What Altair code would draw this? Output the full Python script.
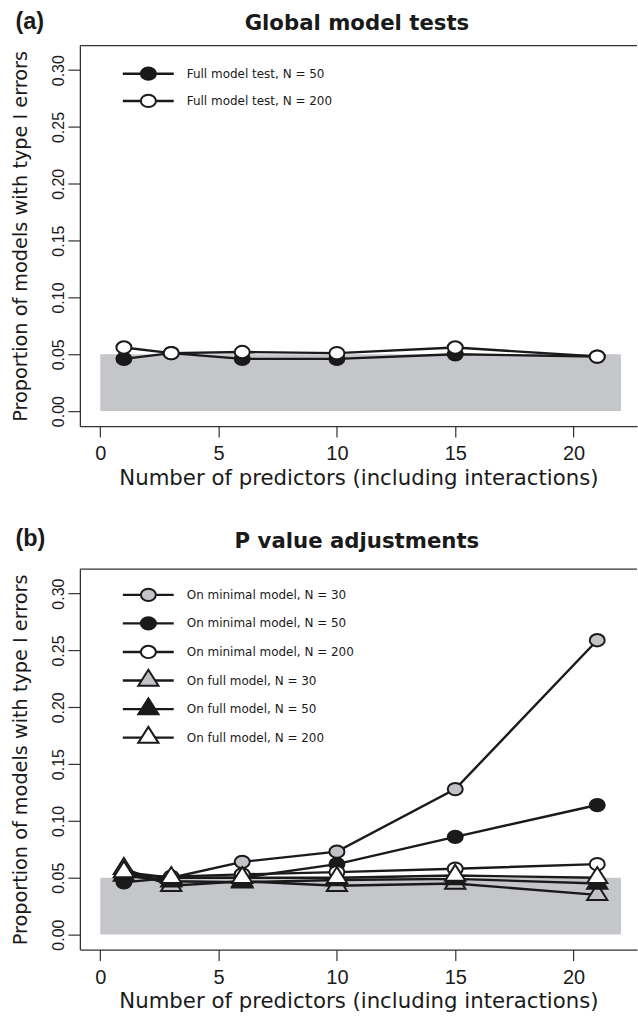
import altair as alt
import pandas as pd

# ---------------- data ----------------
X = [1, 3, 6, 10, 15, 21]

A_SERIES = ["Full model test, N = 50", "Full model test, N = 200"]
A_N50 = [0.046, 0.051, 0.046, 0.046, 0.050, 0.048]
A_N200 = [0.056, 0.051, 0.052, 0.051, 0.056, 0.048]

B_SERIES = [
    "On minimal model, N = 30",
    "On minimal model, N = 50",
    "On minimal model, N = 200",
    "On full model, N = 30",
    "On full model, N = 50",
    "On full model, N = 200",
]
B_MIN30 = [0.053, 0.050, 0.064, 0.073, 0.128, 0.259]
B_MIN50 = [0.046, 0.050, 0.050, 0.062, 0.086, 0.114]
B_MIN200 = [0.052, 0.051, 0.053, 0.055, 0.058, 0.062]
B_FULL30 = [0.058, 0.043, 0.047, 0.043, 0.045, 0.035]
B_FULL50 = [0.052, 0.047, 0.046, 0.048, 0.049, 0.045]
B_FULL200 = [0.055, 0.050, 0.050, 0.050, 0.052, 0.050]

BAND_X = [0, 22]
BAND_Y = [0, 0.05]
X_TICKS = [0, 5, 10, 15, 20]
Y_TICKS = [0.0, 0.05, 0.10, 0.15, 0.20, 0.25, 0.30]

# ---------------- style ----------------
W, H = 558, 381
XDOM = [-0.86, 22.68]
YDOM = [-0.0132, 0.3215]
FONT = "Liberation Sans"
WIDE = "DejaVu Sans"
INK = "#1a1a1a"
FRAME = "#333333"
GRAY_BAND = "#c5c6ca"
GRAY_PT = "#c2c3c7"
CIRCLE = "M-1.22,0A1.22,1 0 1,1 1.22,0A1.22,1 0 1,1 -1.22,0Z"
TRIANGLE = "M0,-1.75L1.643,0.85L-1.643,0.85Z"
SYM_SIZE = 152
LINE_W = 2.4


def xe(field):
    return alt.X(
        f"{field}:Q",
        scale=alt.Scale(domain=XDOM, nice=False, zero=False),
        axis=alt.Axis(
            values=X_TICKS, format="d",
            title="Number of predictors (including interactions)",
            tickSize=11, labelPadding=6.5, labelFontSize=20, labelFont=FONT,
            titleFont=WIDE, titleFontSize=21.3, titlePadding=3.5,
            labelFlush=False, labelOverlap=False, titleFontWeight="normal",
        ),
    )


def ye(field):
    return alt.Y(
        f"{field}:Q",
        scale=alt.Scale(domain=YDOM, nice=False, zero=False),
        axis=alt.Axis(
            values=Y_TICKS, format=".2f",
            title="Proportion of models with type I errors",
            tickSize=12, labelPadding=4.7, labelFontSize=16, labelFont=FONT,
            labelAngle=-90, labelAlign="center", labelBaseline="alphabetic",
            titleFont=WIDE, titleFontSize=19.3, titleFontWeight="normal",
            titleAngle=-90, titleAlign="center", titleBaseline="alphabetic",
            titleX=-53, titleY=H / 2,
            labelFlush=False, labelOverlap=False,
        ),
    )


def long_frame(names, series):
    rows = []
    for i, (name, vals) in enumerate(zip(names, series)):
        for xv, yv in zip(X, vals):
            rows.append({"series": name, "order": i, "x": xv, "y": yv})
    return pd.DataFrame(rows)


def panel(names, series, fills, shapes, letter, title, title_y, letter_y,
          leg_top, leg_pitch):
    df = long_frame(names, series)
    band_df = pd.DataFrame({"x0": [BAND_X[0]], "x1": [BAND_X[1]],
                            "y0": [BAND_Y[0]], "y1": [BAND_Y[1]]})
    one = pd.DataFrame({"k": [0]})
    layers = [
        alt.Chart(band_df).mark_rect(color=GRAY_BAND).encode(
            x=xe("x0"), x2="x1", y=ye("y0"), y2="y1")
    ]
    for i, name in enumerate(names):
        base = alt.Chart(df).transform_filter(alt.datum.series == name)
        layers.append(base.mark_line(color=INK, strokeWidth=LINE_W).encode(
            x=xe("x"), y=ye("y"), order="x:Q"))
        layers.append(base.mark_point(
            filled=True, fill=fills[i], stroke=INK, strokeWidth=2,
            size=SYM_SIZE, shape=shapes[i], opacity=1).encode(x=xe("x"), y=ye("y")))
    # legend
    for i, name in enumerate(names):
        ly = leg_top + i * leg_pitch
        ldf = pd.DataFrame({"label": [name]})
        layers.append(alt.Chart(ldf).mark_rule(color=INK, strokeWidth=LINE_W).encode(
            x=alt.value(43), x2=alt.value(94), y=alt.value(ly)))
        layers.append(alt.Chart(ldf).mark_point(
            filled=True, fill=fills[i], stroke=INK, strokeWidth=2,
            size=SYM_SIZE, shape=shapes[i], opacity=1).encode(
            x=alt.value(68.6), y=alt.value(ly)))
        layers.append(alt.Chart(ldf).mark_text(
            align="left", baseline="middle", font=WIDE, fontSize=12, color=INK).encode(
            x=alt.value(107), y=alt.value(ly), text="label:N"))
    # top frame line
    layers.append(alt.Chart(one).mark_rule(color=FRAME, strokeWidth=1.3).encode(
        x=alt.value(0), x2=alt.value(W), y=alt.value(0)))
    # invisible anchor fixing the outer margin (left 80 px, top 44.7 px)
    layers.append(alt.Chart(one).mark_rule(strokeWidth=1, opacity=0).encode(
        x=alt.value(-79.5), x2=alt.value(-79.5), y=alt.value(-44.2), y2=alt.value(-40)))
    # titles
    tdf = pd.DataFrame({"t": [title], "l": [letter]})
    layers.append(alt.Chart(tdf).mark_text(
        align="center", baseline="middle", font=WIDE, fontSize=21.3,
        fontWeight="bold", color=INK).encode(
        x=alt.value(277.5), y=alt.value(title_y), text="t:N"))
    layers.append(alt.Chart(tdf).mark_text(
        align="left", baseline="middle", font=FONT, fontSize=23.5,
        fontWeight="bold", color=INK).encode(
        x=alt.value(-64.5), y=alt.value(letter_y), text="l:N"))
    return alt.layer(*layers).properties(width=W, height=H)


pa = panel(A_SERIES, [A_N50, A_N200], [INK, "white"], [CIRCLE, CIRCLE],
           "(a)", "Global model tests", -22, -24.2, 28, 27.3)
pb = panel(B_SERIES, [B_MIN30, B_MIN50, B_MIN200, B_FULL30, B_FULL50, B_FULL200],
           [GRAY_PT, INK, "white", GRAY_PT, INK, "white"],
           [CIRCLE, CIRCLE, CIRCLE, TRIANGLE, TRIANGLE, TRIANGLE],
           "(b)", "P value adjustments", -27, -30.3, 25.7, 28.6)

chart = alt.vconcat(pa, pb, spacing=143.3, bounds="flush").properties(
    padding={"left": 0, "top": 0, "right": 0, "bottom": 0}
).configure_view(stroke=None).configure_axis(
    labelColor=INK, titleColor=INK,
    domainColor=FRAME, tickColor=FRAME, domainWidth=1.3, tickWidth=1.2, grid=False,
)

chart.save("out.html", embed_options={"renderer": "svg", "actions": False})
